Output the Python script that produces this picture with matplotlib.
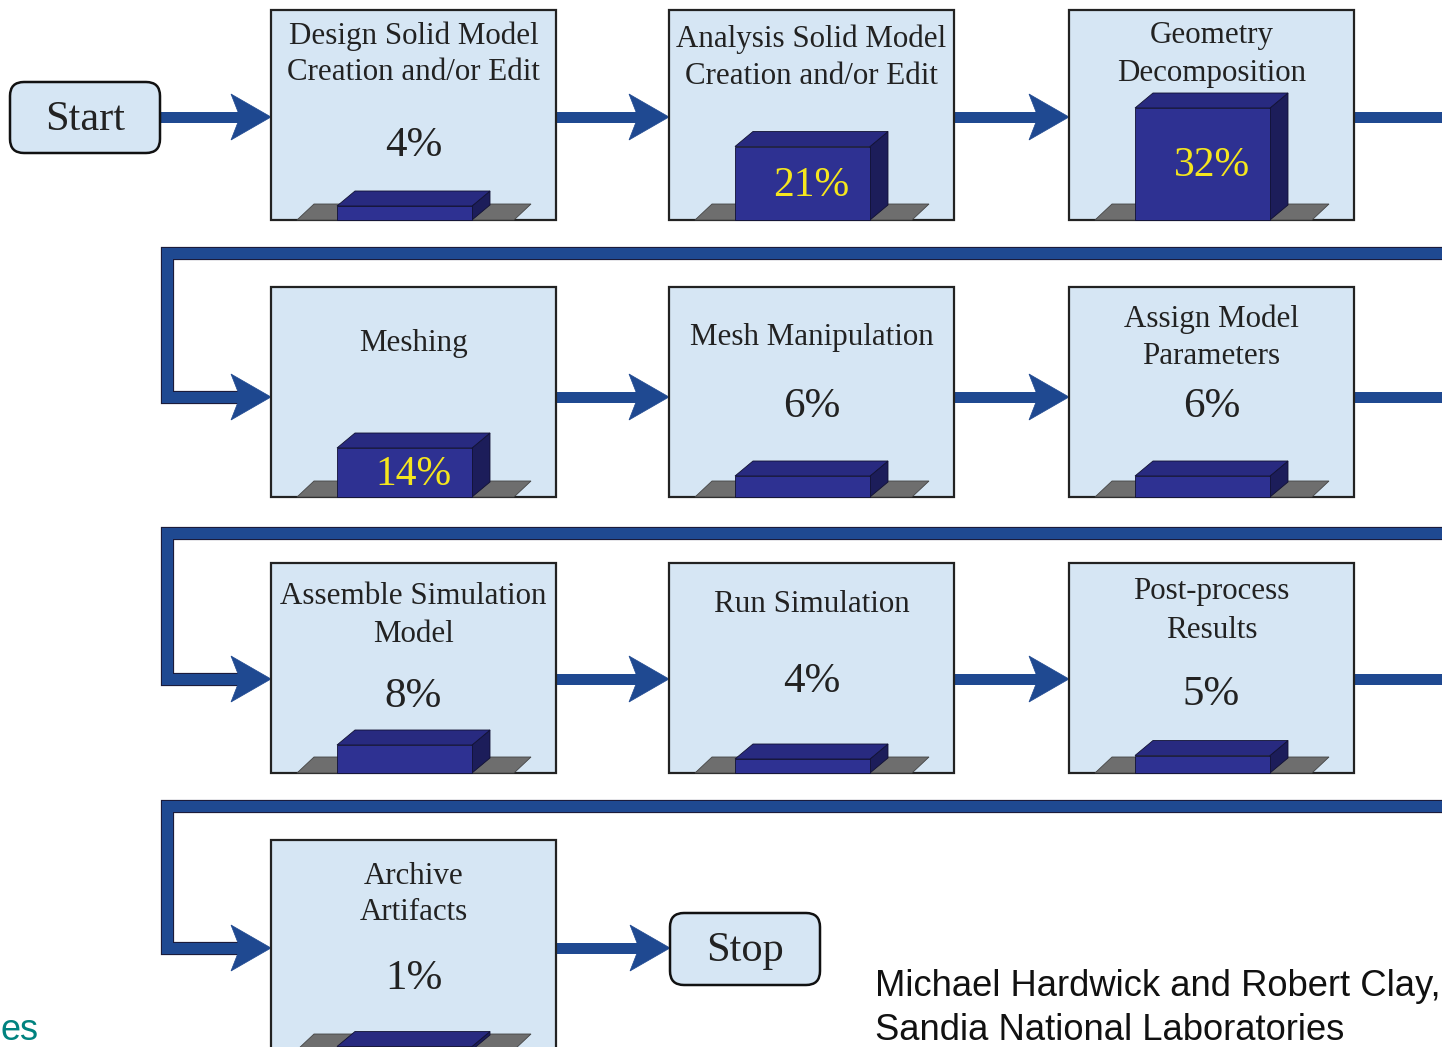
import matplotlib
matplotlib.use("Agg")
import matplotlib.pyplot as plt
from matplotlib.patches import Rectangle, Polygon, FancyBboxPatch
import matplotlib.patheffects as pe

# process steps and share of analyst time (%)
steps = ["Design Solid Model\nCreation and/or Edit",
         "Analysis Solid Model\nCreation and/or Edit",
         "Geometry\nDecomposition",
         "Meshing",
         "Mesh Manipulation",
         "Assign Model\nParameters",
         "Assemble Simulation\nModel",
         "Run Simulation",
         "Post-process\nResults",
         "Archive\nArtifacts"]
shares = [4, 21, 32, 14, 6, 6, 8, 4, 5, 1]
credit = ["Michael Hardwick and Robert Clay,", "Sandia National Laboratories"]

# layout (pixel space of the original picture)
col_x = [271, 669, 1069]
row_y = [10, 287, 563, 840]
BW, BH = 285, 210
title_dy = [(25, 62), (28, 66), (25, 63), (55,), (49,), (31, 68),
            (32, 71), (40,), (27, 66), (35, 72)]
pct_dy = [136, None, None, None, 120, 120, 134, 119, 132, 139]
PX_PER_PCT = 3.5

BOX = "#d6e6f4"
BLUE = "#1f4991"
FRONT, TOP, SIDE = "#2e3192", "#282a80", "#1c1d5a"
FLOOR = "#6e6e6e"
SERIF = ["Liberation Serif", "DejaVu Serif"]
SANS = ["Liberation Sans", "DejaVu Sans"]

fig = plt.figure(figsize=(14.42, 10.47), dpi=100)
ax = fig.add_axes([0, 0, 1, 1])
ax.set_xlim(0, 1442)
ax.set_ylim(1047, 0)
ax.axis("off")

LW = 11 * 0.72


def head(xt, y):
    ax.add_patch(Polygon([(xt, y), (xt - 40, y - 23), (xt - 31, y),
                          (xt - 40, y + 23)], closed=True, fc=BLUE, ec=BLUE,
                         lw=0.5, zorder=4))


def arrow(x0, x1, y):
    ax.plot([x0, x1 - 30], [y, y], color=BLUE, lw=LW, solid_capstyle="butt", zorder=3)
    head(x1, y)


def wrap(y_top, y_bot, x_end=1442):
    # connector from the end of one row to the start of the next
    xs = [x_end, 167, 167, col_x[0] - 30]
    ys = [y_top, y_top, y_bot, y_bot]
    ax.plot(xs, ys, color=BLUE, lw=LW, solid_joinstyle="miter",
            solid_capstyle="butt", zorder=3,
            path_effects=[pe.Stroke(linewidth=LW + 1.6, foreground="#1b1b3a"), pe.Normal()])
    head(col_x[0], y_bot)


def rbox(x, y, w, h, label):
    ax.add_patch(FancyBboxPatch((x + 14, y + 14), w - 28, h - 28,
                                boxstyle="round,pad=14", fc=BOX, ec="#111111",
                                lw=1.8, zorder=5))
    ax.text(x + w / 2, y + h / 2 + 2, label, ha="center", va="center",
            fontsize=30.5, family=SERIF, color="#222222", zorder=6)


def step_box(i):
    r, c = divmod(i, 3)
    x, y = col_x[c], row_y[r]
    ax.add_patch(Rectangle((x, y), BW, BH, fc=BOX, ec="#222222", lw=1.6, zorder=5))
    base = y + BH
    # floor
    fl = x + 26
    ax.add_patch(Polygon([(fl, base), (fl + 217, base), (fl + 234, base - 16),
                          (fl + 17, base - 16)], closed=True, fc=FLOOR,
                         ec="#444444", lw=0.6, zorder=6))
    # 3d bar
    bx, bw, dx, dy = x + 66, 135, 18, 15
    h = shares[i] * PX_PER_PCT
    top = base - h
    ax.add_patch(Polygon([(bx + bw, base), (bx + bw + dx, base - dy),
                          (bx + bw + dx, top - dy), (bx + bw, top)], closed=True,
                         fc=SIDE, ec="#111133", lw=0.6, zorder=7))
    ax.add_patch(Polygon([(bx, top), (bx + bw, top), (bx + bw + dx, top - dy),
                          (bx + dx, top - dy)], closed=True, fc=TOP,
                         ec="#111133", lw=0.6, zorder=7))
    ax.add_patch(Rectangle((bx, top), bw, h, fc=FRONT, ec="#111133", lw=0.6, zorder=7))
    # titles
    for line, dyt in zip(steps[i].split("\n"), title_dy[i]):
        ax.text(x + BW / 2, y + dyt + 1, line, ha="center", va="center", fontsize=22.3,
                family=SERIF, color="#222222", zorder=8)
    if pct_dy[i] is None:
        ax.text(x + BW / 2, top + h / 2 + 2, f"{shares[i]}%", ha="center", va="center",
                fontsize=30, family=SERIF, color="#f5e61e", zorder=8)
    else:
        ax.text(x + BW / 2, y + pct_dy[i], f"{shares[i]}%", ha="center", va="center",
                fontsize=31, family=SERIF, color="#222222", zorder=8)


# arrows inside rows
mid = [117, 397, 679, 948]
arrow(160, col_x[0], mid[0])
for r in range(3):
    arrow(col_x[0] + BW, col_x[1], mid[r])
    arrow(col_x[1] + BW, col_x[2], mid[r])
    ax.plot([col_x[2] + BW, 1442], [mid[r], mid[r]], color=BLUE, lw=LW,
            solid_capstyle="butt", zorder=3)
wrap(253, mid[1])
wrap(533, mid[2])
wrap(806, mid[3])
arrow(col_x[0] + BW, 670, mid[3])

for i in range(len(steps)):
    step_box(i)

rbox(10, 82, 150, 71, "Start")
rbox(670, 913, 150, 72, "Stop")

ax.text(875, 986, credit[0], ha="left", va="center", fontsize=26.2,
        family=SANS, color="#111111")
ax.text(875, 1030, credit[1], ha="left", va="center", fontsize=26.2,
        family=SANS, color="#111111")
ax.text(1, 1030, "es", ha="left", va="center", fontsize=26,
        family=SANS, color="#00827f")

fig.savefig("out.png", dpi=100)
